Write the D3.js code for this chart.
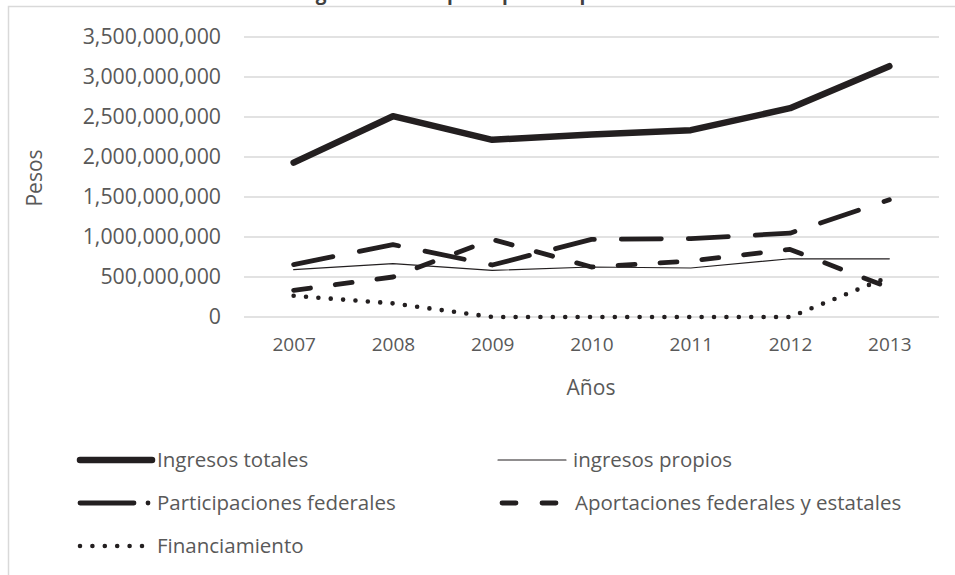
<!DOCTYPE html>
<html>
<head>
<meta charset="utf-8">
<script src="https://cdn.jsdelivr.net/npm/d3@7"></script>
<style>
  html, body { margin: 0; padding: 0; background: #ffffff; }
  svg { display: block; }
  text { font-family: "Open Sans", "Noto Sans", sans-serif; }
</style>
</head>
<body>
<svg id="chart" width="955" height="575"></svg>
<script>
// Ingresos del municipio, 2007-2013 (pesos)
const years = ["2007", "2008", "2009", "2010", "2011", "2012", "2013"];
const ingresosTotales   = [1930e6, 2510e6, 2215e6, 2280e6, 2335e6, 2610e6, 3135e6];
const ingresosPropios   = [592e6, 667e6, 583e6, 625e6, 612e6, 729e6, 727e6];
const participaciones   = [655e6, 905e6, 650e6, 970e6, 980e6, 1048e6, 1465e6];
const aportaciones      = [334e6, 500e6, 970e6, 625e6, 700e6, 845e6, 365e6];
const financiamiento    = [265e6, 170e6, 0, 0, 0, 0, 505e6];
const yTicks = [0, 500e6, 1000e6, 1500e6, 2000e6, 2500e6, 3000e6, 3500e6];

const seriesNames = [
  "Ingresos totales",
  "ingresos propios",
  "Participaciones federales",
  "Aportaciones federales y estatales",
  "Financiamiento"
];
const seriesValues = [ingresosTotales, ingresosPropios, participaciones, aportaciones, financiamiento];

const ink = "#231f20";
const grey = "#595959";
const styles = [
  { width: 6.5, dash: null },
  { width: 1.1, dash: null },
  { width: 4.8, dash: "40 27" },
  { width: 4.8, dash: "17 25" },
  { width: 4.6, dash: "0 12.4" }
];

const svg = d3.select("#chart");

// chart frame
svg.append("rect")
  .attr("x", 8.5).attr("y", 6.5)
  .attr("width", 1000).attr("height", 700)
  .attr("fill", "none").attr("stroke", "#d9d9d9").attr("stroke-width", 1.5);

// title (runs off the top edge)
svg.append("text")
  .attr("x", 478).attr("y", 0)
  .attr("text-anchor", "middle")
  .attr("font-size", 19).attr("font-weight", "bold")
  .attr("fill", "#404040")
  .text("Ingresos municipales por componente");

const x = d3.scalePoint().domain(years).range([244, 939]).padding(0.5);
const y = d3.scaleLinear().domain([0, 3.5e9]).range([317, 37]);

// gridlines
svg.append("g")
  .selectAll("line")
  .data(yTicks)
  .join("line")
  .attr("x1", 244).attr("x2", 939)
  .attr("y1", d => y(d)).attr("y2", d => y(d))
  .attr("stroke", "#d9d9d9").attr("stroke-width", 1.5);

// y axis labels
const yAxis = d3.axisLeft(y).tickValues(yTicks).tickFormat(d3.format(",")).tickSize(0).tickPadding(0);
const gy = svg.append("g").attr("transform", "translate(221,0)").call(yAxis);
gy.select(".domain").remove();
gy.selectAll("text").attr("font-size", 21.3).attr("fill", grey)
  .attr("font-family", "'Open Sans', sans-serif");

// x axis labels
const xAxis = d3.axisBottom(x).tickSize(0).tickPadding(0);
const gx = svg.append("g").attr("transform", "translate(0,337)").call(xAxis);
gx.select(".domain").remove();
gx.selectAll("text").attr("font-size", 19).attr("fill", grey)
  .attr("font-family", "'Open Sans', sans-serif");

// axis titles
svg.append("text")
  .attr("transform", "translate(42,178) rotate(-90)")
  .attr("text-anchor", "middle")
  .attr("font-size", 21).attr("fill", grey)
  .text("Pesos");
svg.append("text")
  .attr("x", 591).attr("y", 395)
  .attr("text-anchor", "middle")
  .attr("font-size", 21).attr("fill", grey)
  .text("Años");

// series lines
const line = d3.line().x((d, i) => x(years[i])).y(d => y(d));
svg.append("g")
  .selectAll("path")
  .data(seriesValues)
  .join("path")
  .attr("d", d => line(d))
  .attr("fill", "none")
  .attr("stroke", ink)
  .attr("stroke-width", (d, i) => styles[i].width)
  .attr("stroke-linecap", "round")
  .attr("stroke-linejoin", "round")
  .attr("stroke-dasharray", (d, i) => styles[i].dash);

// legend
const legendPos = [
  { x: 80, y: 460, len: 72, tx: 157 },
  { x: 498, y: 460, len: 68, tx: 573 },
  { x: 80, y: 503, len: 58, tx: 157 },
  { x: 500, y: 503, len: 62, tx: 575 },
  { x: 80, y: 546, len: 70, tx: 157 }
];
const lg = svg.append("g");
seriesNames.forEach((name, i) => {
  const p = legendPos[i];
  const s = styles[i];
  if (i === 2) {
    lg.append("line")
      .attr("x1", p.x).attr("x2", p.x + 54).attr("y1", p.y).attr("y2", p.y)
      .attr("stroke", ink).attr("stroke-width", s.width).attr("stroke-linecap", "round");
    lg.append("circle").attr("cx", p.x + 68).attr("cy", p.y).attr("r", 2.4).attr("fill", ink);
  } else if (i === 3) {
    lg.append("line")
      .attr("x1", p.x + 2).attr("x2", p.x + p.len).attr("y1", p.y).attr("y2", p.y)
      .attr("stroke", ink).attr("stroke-width", s.width).attr("stroke-linecap", "round")
      .attr("stroke-dasharray", "14 26");
  } else {
    lg.append("line")
      .attr("x1", p.x).attr("x2", p.x + p.len).attr("y1", p.y).attr("y2", p.y)
      .attr("stroke", ink).attr("stroke-width", s.width).attr("stroke-linecap", "round")
      .attr("stroke-dasharray", s.dash);
  }
  lg.append("text")
    .attr("x", p.tx).attr("y", p.y)
    .attr("dy", "0.35em")
    .attr("font-size", 20.5).attr("fill", grey)
    .text(name);
});
</script>
</body>
</html>
